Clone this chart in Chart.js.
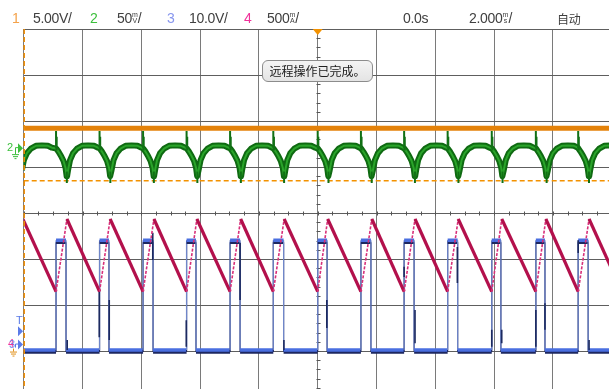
<!DOCTYPE html>
<html>
<head>
<meta charset="utf-8">
<script src="https://cdn.jsdelivr.net/npm/chart.js@4.4.0/dist/chart.umd.min.js"></script>
<style>
  html, body { margin: 0; padding: 0; background: #fff; overflow: hidden; width: 609px; height: 389px; }
  #wrap { position: absolute; left: 0; top: 0; width: 660px; height: 420px; }
  .hd { position: absolute; top: 10px; font: 14px "Liberation Sans", Arial, sans-serif; letter-spacing: -0.3px;
        color: #404040; white-space: nowrap; line-height: 16px; }
  .st { display: inline-flex; flex-direction: column; font-size: 7px; line-height: 6px; vertical-align: top;
        margin-top: 2px; letter-spacing: 0; }
  .st b { font-weight: normal; text-align: center; }
  .cjk { font-family: "Noto Sans CJK SC", sans-serif; font-size: 12px; }
  #msg { position: absolute; left: 262px; top: 60px; width: 109px; height: 20px; border: 1px solid #8c8c8c;
         border-radius: 6px; background: linear-gradient(#f4f4f4, #e4e4e4); font: 12px "Noto Sans CJK SC", sans-serif;
         color: #202020; text-align: center; line-height: 20px; }
</style>
</head>
<body>
<div id="wrap"><canvas id="scope" width="660" height="420"></canvas></div>

<span class="hd" style="left:12px;color:#f4a24a">1</span>
<span class="hd" style="left:33px">5.00V/</span>
<span class="hd" style="left:90px;color:#3cbf3c">2</span>
<span class="hd" style="left:117px">50<span class="st"><b>m</b><b>V</b></span>/</span>
<span class="hd" style="left:167px;color:#8796ee">3</span>
<span class="hd" style="left:189px">10.0V/</span>
<span class="hd" style="left:244px;color:#f0329a">4</span>
<span class="hd" style="left:267px">500<span class="st"><b>m</b><b>A</b></span>/</span>
<span class="hd" style="left:403px">0.0s</span>
<span class="hd" style="left:469px">2.000<span class="st"><b>m</b><b>s</b></span>/</span>
<span class="hd cjk" style="left:557px;top:11px">自动</span>
<div id="msg">远程操作已完成。</div>

<script>
// Horizontal: time in ms (2 ms/div, 10 divisions). Vertical: screen divisions (8 divisions).
const timeRange = [-10, 10];
const divRange = [-4, 4];

// Ch4 current sawtooth turning points (ms); troughs coincide with the ch3 pulse rising edge
const troughTimes = [-10.47, -8.90, -7.42, -5.94, -4.46, -2.98, -1.51, 0.00, 1.47, 2.94, 4.42, 5.92, 7.42, 8.86, 10.35];
const peakTimes   = [-10.03, -8.53, -7.06, -5.57, -4.11, -2.62, -1.14, 0.34, 1.84, 3.31, 4.78, 6.26, 7.76, 9.23];
const ch4Peak = -0.13;
const ch4Trough = -1.71;

// Ch3 gate pulse: high from each trough until just before the current peak
const pulseFallTimes = [-10.06, -8.56, -7.10, -5.60, -4.14, -2.64, -1.16, 0.32, 1.81, 3.28, 4.76, 6.23, 7.73, 9.20];
const ch3High = -0.59;
const ch3Low = -2.98;

// Ch3 ringing / glitch strokes (ms, top, bottom in div)
const glitchTimes  = [-8.52, -7.43, -7.09, -5.61, -4.47, -2.64, -1.15, 0.31, 2.94, 3.31, 4.75, 5.92, 6.26, 7.42, 7.73, 8.86, 9.23];
const glitchTop    = [-2.76, -1.67, -1.89, -0.43, -2.33, -0.65, -2.76, -1.89, -1.17, -2.11, -0.74, -2.54, -2.54, -2.11, -1.96, -0.59, -2.76];
const glitchBottom = [-2.98, -2.70, -2.76, -1.02, -2.91, -1.89, -2.98, -2.50, -1.39, -2.83, -1.52, -2.91, -2.83, -2.91, -2.54, -0.87, -2.98];

// Ch2 ripple band over one switching cycle, measured from the trough time (ms offset, div)
const ch2CycleOffsets = [0.010, 0.085, 0.170, 0.255, 0.323, 0.360, 0.375, 0.408, 0.476, 0.578, 0.714, 0.884, 1.088, 1.293, 1.429];
const ch2CycleLevels  = [1.40, 1.33, 1.24, 1.13, 0.98, 0.80, 0.80, 0.93, 1.15, 1.30, 1.40, 1.46, 1.47, 1.46, 1.42];
// Narrow switching spike (at the trough) and notch (at the current peak): [offset ms, from, to]
const ch2SpikeStrokes = [[0.000, 1.40, 1.78], [0.022, 1.36, 1.66]];
const ch2NotchStrokes = [[0.367, 0.90, 0.65]];

// Ch1 DC level and trigger level (div)
const ch1Level = 1.84;
const triggerLevel = 0.70;

// Channel reference markers on the left edge (div)
const ch2Ground = 1.41;
const ch3TrigMark = -2.57;
const ch34Ground = -2.86;

// ---- build point lists ----
const ch4Points = [];
troughTimes.forEach((t, i) => {
  ch4Points.push({ x: t, y: ch4Trough });
  if (i < peakTimes.length) ch4Points.push({ x: peakTimes[i], y: ch4Peak });
});

const ch3Points = [];
pulseFallTimes.forEach((tf, i) => {
  const tr = troughTimes[i];
  ch3Points.push({ x: tr, y: ch3Low }, { x: tr, y: ch3High }, { x: tf, y: ch3High }, { x: tf, y: ch3Low });
});
ch3Points.push({ x: troughTimes[troughTimes.length - 1], y: ch3Low });

const glitchPoints = [];
glitchTimes.forEach((t, i) => {
  glitchPoints.push({ x: t, y: glitchTop[i] }, { x: t, y: glitchBottom[i] }, { x: t, y: null });
});

const ch2Points = [];
const ch2EdgePoints = [];
troughTimes.forEach(t => {
  ch2CycleOffsets.forEach((o, j) => ch2Points.push({ x: t + o, y: ch2CycleLevels[j] }));
  ch2SpikeStrokes.concat(ch2NotchStrokes).forEach(([o, a, b]) => {
    ch2EdgePoints.push({ x: t + o, y: a }, { x: t + o, y: b }, { x: t + o, y: null });
  });
});

const ch1Points = [{ x: timeRange[0], y: ch1Level }, { x: timeRange[1], y: ch1Level }];
const trigPoints = [{ x: timeRange[0], y: triggerLevel }, { x: timeRange[1], y: triggerLevel }];

const isVertical = c => c.p0.parsed.x === c.p1.parsed.x;
const isRising = c => c.p1.parsed.y > c.p0.parsed.y;

// Offset shadow under a trace (dark underside of the ch3 trace)
const traceShadow = {
  id: 'traceShadow',
  beforeDatasetDraw(chart, args) {
    const s = chart.data.datasets[args.index].shadow;
    if (s) { const c = chart.ctx; c.save(); c.shadowColor = s.color; c.shadowOffsetY = s.dy; c.shadowBlur = 0; }
  },
  afterDatasetDraw(chart, args) {
    if (chart.data.datasets[args.index].shadow) chart.ctx.restore();
  }
};

// Minor ticks on the centre axes
const centreTicks = {
  id: 'centreTicks',
  beforeDatasetsDraw(chart) {
    const { ctx, scales: { x, y } } = chart;
    const cx = Math.round(x.getPixelForValue(0)) + 0.5;
    const cy = Math.round(y.getPixelForValue(0)) + 0.5;
    ctx.save();
    ctx.strokeStyle = '#555';
    ctx.lineWidth = 1;
    ctx.beginPath();
    for (let k = 0; k <= 40; k++) {
      const px = Math.round(x.getPixelForValue(timeRange[0] + k * 0.5)) + 0.5;
      ctx.moveTo(px, cy - 2); ctx.lineTo(px, cy + 2);
    }
    for (let k = 0; k <= 40; k++) {
      const py = Math.round(y.getPixelForValue(divRange[0] + k * 0.2)) + 0.5;
      ctx.moveTo(cx - 2, py); ctx.lineTo(cx + 2, py);
    }
    ctx.stroke();
    ctx.restore();
  }
};

function ground(ctx, x, y, color) {
  ctx.strokeStyle = color; ctx.lineWidth = 1;
  ctx.beginPath();
  ctx.moveTo(x + 0.5, y); ctx.lineTo(x + 0.5, y + 3);
  ctx.moveTo(x - 3, y + 3.5); ctx.lineTo(x + 4, y + 3.5);
  ctx.moveTo(x - 2, y + 5.5); ctx.lineTo(x + 3, y + 5.5);
  ctx.moveTo(x - 0.5, y + 7.5); ctx.lineTo(x + 1.5, y + 7.5);
  ctx.stroke();
}
function arrow(ctx, x, y, color) {
  ctx.fillStyle = color;
  ctx.beginPath();
  ctx.moveTo(x - 5, y - 5); ctx.lineTo(x, y); ctx.lineTo(x - 5, y + 5); ctx.closePath();
  ctx.fill();
}

// Channel markers, trigger marker and the left time-reference line
const markers = {
  id: 'markers',
  afterDraw(chart) {
    const { ctx, scales: { x, y }, chartArea: a } = chart;
    ctx.save();
    ctx.strokeStyle = '#f08c00'; ctx.lineWidth = 1.5; ctx.setLineDash([5, 3]);
    ctx.beginPath(); ctx.moveTo(a.left + 0.5, a.top); ctx.lineTo(a.left + 0.5, a.bottom); ctx.stroke();
    ctx.setLineDash([]);
    const tx = x.getPixelForValue(0);
    ctx.fillStyle = '#f39200';
    ctx.beginPath(); ctx.moveTo(tx - 5, a.top); ctx.lineTo(tx + 5, a.top); ctx.lineTo(tx, a.top + 6); ctx.closePath(); ctx.fill();

    ctx.font = '11px "Liberation Sans", Arial, sans-serif';
    ctx.textBaseline = 'middle';
    const y2 = y.getPixelForValue(ch2Ground);
    ctx.fillStyle = '#3cbf3c'; ctx.fillText('2', 7, y2);
    ctx.strokeStyle = '#3cbf3c'; ctx.lineWidth = 1;
    ctx.beginPath(); ctx.moveTo(15.5, y2 + 4); ctx.lineTo(15.5, y2 - 0.5); ctx.lineTo(19, y2 - 0.5); ctx.stroke();
    arrow(ctx, 23, y2, '#3cbf3c');
    ground(ctx, 15, y2 + 3, '#3cbf3c');
    const yt = y.getPixelForValue(ch3TrigMark);
    ctx.fillStyle = '#5b7be8'; ctx.fillText('T', 16, yt - 10);
    arrow(ctx, 23, yt, '#5b7be8');
    const yg = y.getPixelForValue(ch34Ground);
    ctx.fillStyle = '#f0329a'; ctx.fillText('4', 8, yg - 1);
    ctx.fillStyle = 'rgba(91,123,232,0.8)'; ctx.fillText('3', 9, yg);
    ctx.strokeStyle = '#5b7be8';
    ctx.beginPath(); ctx.moveTo(15.5, yg + 3); ctx.lineTo(15.5, yg - 0.5); ctx.lineTo(19, yg - 0.5); ctx.stroke();
    arrow(ctx, 23, yg, '#5b7be8');
    ground(ctx, 13, yg + 4, '#e0901a');
    ctx.restore();
  }
};

const line = (extra) => Object.assign({
  type: 'line', pointRadius: 0, tension: 0, fill: false, spanGaps: false
}, extra);

new Chart(document.getElementById('scope'), {
  type: 'line',
  data: {
    datasets: [
      line({ label: 'ch1', data: ch1Points, borderColor: '#e4820a', borderWidth: 5, order: 0 }),
      line({ label: 'ch1 edge', data: ch1Points, borderColor: '#f9b45a', borderWidth: 1.5, borderDash: [6, 3], order: 0 }),
      line({ label: 'trigger', data: trigPoints, borderColor: '#f39200', borderWidth: 1.5, borderDash: [5, 3], order: 6 }),
      line({ label: 'ch2 edges', data: ch2EdgePoints, borderColor: '#117015', borderWidth: 2, order: 2 }),
      line({ label: 'ch2', data: ch2Points, borderColor: '#0f6a12', borderWidth: 6, borderJoinStyle: 'round', order: 3 }),
      line({ label: 'ch2 core', data: ch2Points, borderColor: '#2aa42a', borderWidth: 2, borderJoinStyle: 'round', order: 2 }),
      line({ label: 'ch4', data: ch4Points, borderColor: '#b3104c', borderWidth: 3.2, order: 1,
        segment: {
          borderWidth: c => isRising(c) ? 1.6 : 3.2,
          borderColor: c => isRising(c) ? '#d8307a' : '#b3104c',
          borderDash: c => isRising(c) ? [3, 1.5] : undefined
        } }),
      line({ label: 'ch3 glitch', data: glitchPoints, borderColor: '#1c2a60', borderWidth: 1.6, order: 4 }),
      line({ label: 'ch3', data: ch3Points, borderColor: '#4a6fe0', borderWidth: 3.5, order: 5,
        shadow: { color: '#1d2760', dy: 2 },
        segment: {
          borderWidth: c => isVertical(c) ? 1.2 : 3.5,
          borderColor: c => isVertical(c) ? '#6f86c9' : '#4a6fe0'
        } })
    ]
  },
  options: {
    responsive: false,
    animation: false,
    events: [],
    layout: { padding: { left: 23.7, top: 29, right: 48.3, bottom: 23 } },
    plugins: { legend: { display: false }, tooltip: { enabled: false } },
    scales: {
      x: {
        type: 'linear', min: timeRange[0], max: timeRange[1],
        ticks: { display: false, stepSize: 2 },
        grid: { color: '#7a7a7a', lineWidth: 1, drawTicks: false },
        border: { display: false }
      },
      y: {
        type: 'linear', min: divRange[0], max: divRange[1],
        ticks: { display: false, stepSize: 1 },
        grid: { color: '#5e5e5e', lineWidth: 1, drawTicks: false },
        border: { display: false }
      }
    }
  },
  plugins: [traceShadow, centreTicks, markers]
});
</script>
</body>
</html>
